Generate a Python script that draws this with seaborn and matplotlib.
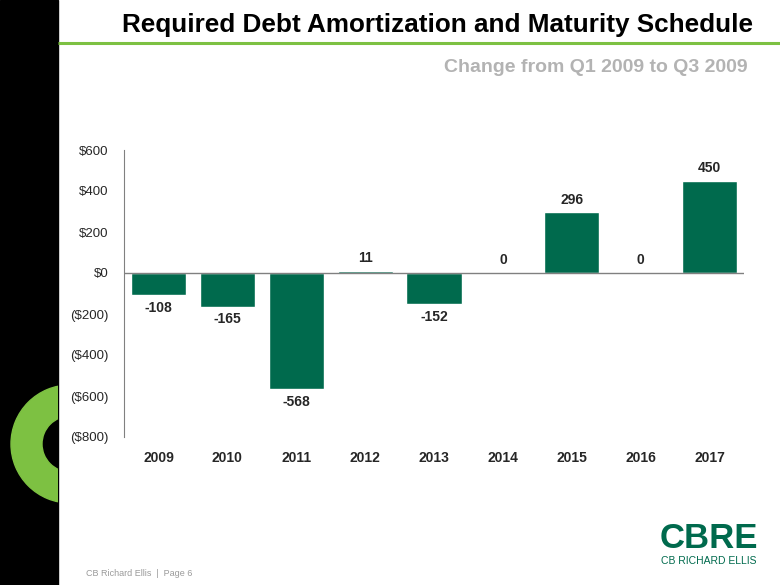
import matplotlib
matplotlib.use("Agg")
import matplotlib.pyplot as plt
import matplotlib.patches as mpatches
from matplotlib.ticker import FuncFormatter
import pandas as pd
import seaborn as sns

# chart data
years = ["2009", "2010", "2011", "2012", "2013", "2014", "2015", "2016", "2017"]
change = [-108, -165, -568, 11, -152, 0, 296, 0, 450]

title = "Required Debt Amortization and Maturity Schedule"
subtitle = "Change from Q1 2009 to Q3 2009"
footer = "CB Richard Ellis  |  Page 6"

bar_green = "#006A4D"
lime = "#7DC142"

sns.set_style("white")
plt.rcParams["font.family"] = ["Liberation Sans", "DejaVu Sans"]

df = pd.DataFrame({"year": years, "change": change})

fig = plt.figure(figsize=(7.8, 5.85), dpi=100)

# slide decoration, drawn in pixel coordinates
bg = fig.add_axes([0, 0, 1, 1], zorder=0)
bg.set_xlim(0, 780)
bg.set_ylim(585, 0)
bg.axis("off")
strip = mpatches.Rectangle((0, 0), 58, 585, color="black")
bg.add_patch(strip)
ring = mpatches.Wedge((70, 444), 59, 0, 360, width=31, color=lime)
bg.add_patch(ring)
ring.set_clip_path(strip)
bg.plot([58, 780], [43, 43], color=lime, lw=2.2, solid_capstyle="butt")

fig.text(437 / 780, 1 - 25 / 585, title, ha="center", va="center",
         fontsize=18.8, fontweight="bold", color="black")
fig.text(748 / 780, 1 - 67 / 585, subtitle, ha="right", va="center",
         fontsize=14, fontweight="bold", color="#B3B3B3")
fig.text(86 / 780, 1 - 573 / 585, footer, ha="left", va="center",
         fontsize=6.5, color="#9A9A9A")
fig.text(709 / 780, 1 - 539 / 585, "CBRE", ha="center", va="center",
         fontsize=25, fontweight="bold", color=bar_green)
fig.text(709 / 780, 1 - 561 / 585, "CB RICHARD ELLIS", ha="center", va="center",
         fontsize=7.5, color=bar_green)

# the chart
ax = fig.add_axes([124 / 780, 148 / 585, 620 / 780, 287 / 585], zorder=1)
ax.patch.set_alpha(0)
sns.barplot(data=df, x="year", y="change", color=bar_green, saturation=1,
            width=0.8, ax=ax)
ax.set_ylim(-800, 600)
ax.set_xlim(-0.5, len(years) - 0.5)
ax.set_yticks(range(-800, 601, 200))
ax.yaxis.set_major_formatter(FuncFormatter(
    lambda v, p: f"${int(v)}" if v >= 0 else f"(${int(-v)})"))
ax.axhline(0, color="#808080", lw=1, zorder=3)
ax.bar_label(ax.containers[0], labels=[str(v) for v in change], padding=4,
             fontsize=10, fontweight="bold")

for s in ["top", "right", "bottom"]:
    ax.spines[s].set_visible(False)
ax.spines["left"].set_color("#808080")
ax.tick_params(axis="y", length=0, labelsize=9.5, pad=11)
ax.tick_params(axis="x", length=0, labelsize=10, pad=10)
for t in ax.get_xticklabels():
    t.set_fontweight("bold")
ax.set_xlabel("")
ax.set_ylabel("")

fig.savefig("out.png", dpi=100)
